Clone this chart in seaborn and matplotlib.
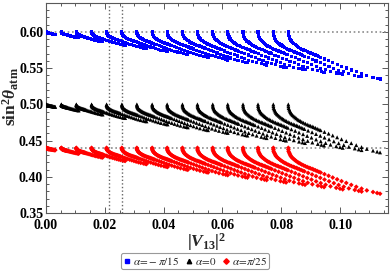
import numpy as np
import pandas as pd
import matplotlib
matplotlib.use("Agg")
import matplotlib.pyplot as plt
import seaborn as sns
from matplotlib.font_manager import FontProperties
from matplotlib.lines import Line2D
from matplotlib.ticker import MultipleLocator

# ---------------- data ----------------
FAMILY_LABELS = [r"$\alpha\!=\!-\pi/15$", r"$\alpha\!=\!0$", r"$\alpha\!=\!\pi/25$"]
FAMILY_Y0 = [0.60, 0.50, 0.44]             # sin^2 theta_atm where each curve starts
FAMILY_DROP_SCALE = [1.00, 1.02, 0.975]     # relative depth of each family's fan
FAMILY_COLORS = ["#0000ff", "#000000", "#ff0000"]
FAMILY_MARKERS = ["s", "^", "D"]
FAMILY_SIZES = [5, 8, 6]

# |V13|^2 at which each curve of the fan starts (on the top line)
CURVE_STARTS = [0.0000, 0.0052, 0.0103, 0.0155, 0.0206, 0.0258, 0.0309, 0.0361,
                0.0412, 0.0464, 0.0515, 0.0567, 0.0618, 0.0670, 0.0721, 0.0773,
                0.0824]
# relative width / depth of each curve compared with the longest one
CURVE_WIDTH = [0.100, 0.190, 0.287, 0.366, 0.435, 0.498, 0.555, 0.609,
               0.660, 0.708, 0.754, 0.799, 0.842, 0.883, 0.923, 0.962, 1.000]
CURVE_DEPTH = [0.050, 0.125, 0.210, 0.285, 0.354, 0.418, 0.479, 0.538,
               0.595, 0.650, 0.703, 0.755, 0.806, 0.856, 0.905, 0.953, 1.000]

# shape of the longest curve (offsets from its start)
TEMPLATE_DX = [0.0000, 0.00003, 0.0001, 0.0003, 0.0005, 0.0007, 0.0009, 0.0012,
               0.0015, 0.0019, 0.0023, 0.0027, 0.0032, 0.0036, 0.0041, 0.0046,
               0.0052, 0.0058, 0.0064, 0.0070, 0.0075, 0.0081, 0.0086, 0.0092,
               0.0098, 0.0104, 0.0110, 0.0123, 0.0137, 0.0151, 0.0166, 0.0181,
               0.0197, 0.0214, 0.0231, 0.0249, 0.0267, 0.0288, 0.0302, 0.0312]
TEMPLATE_DY = [0.0000, 0.0025, 0.0050, 0.0070, 0.0087, 0.0104, 0.0120, 0.0134,
               0.0147, 0.0161, 0.0175, 0.0189, 0.0203, 0.0214, 0.0225, 0.0237,
               0.0249, 0.0261, 0.0272, 0.0282, 0.0290, 0.0299, 0.0308, 0.0318,
               0.0329, 0.0340, 0.0350, 0.0373, 0.0396, 0.0421, 0.0446, 0.0472,
               0.0497, 0.0525, 0.0552, 0.0578, 0.0603, 0.0626, 0.0640, 0.0650]

VLINES = [0.0215, 0.0257]
HLINES = [0.60, 0.44]

XTICKS = [0.00, 0.02, 0.04, 0.06, 0.08, 0.10]
YTICKS = [0.35, 0.40, 0.45, 0.50, 0.55, 0.60]
XLIM = (0.0, 0.1163)
YLIM = (0.35, 0.64)

# ---------------- build table ----------------
rows = []
for lab, y0, ds in zip(FAMILY_LABELS, FAMILY_Y0, FAMILY_DROP_SCALE):
    for x0, w, d in zip(CURVE_STARTS, CURVE_WIDTH, CURVE_DEPTH):
        for dx, dy in zip(TEMPLATE_DX, TEMPLATE_DY):
            rows.append({"family": lab, "V13sq": x0 + dx * w, "s23sq": y0 - dy * d * ds})
df = pd.DataFrame(rows)

# ---------------- style ----------------
sns.set_theme(style="white")
plt.rcParams["font.family"] = ["Liberation Serif", "DejaVu Serif"]
plt.rcParams["mathtext.fontset"] = "custom"
plt.rcParams["mathtext.rm"] = "Liberation Serif:bold"
plt.rcParams["mathtext.bf"] = "Liberation Serif:bold"
plt.rcParams["mathtext.it"] = "Liberation Serif:italic:bold"

fig = plt.figure(figsize=(3.9, 2.71), dpi=100)
ax = fig.add_axes([46 / 390, 1 - 213 / 271, (388 - 46) / 390, (213 - 3) / 271])

frame_col = "0.35"
for xv in VLINES:
    ax.axvline(xv, color="0.4", lw=1.0, ls=(0, (1, 1.6)), zorder=1)
for yv in HLINES:
    ax.axhline(yv, color="0.55", lw=1.2, ls=(0, (1, 1.6)), zorder=1)

for lab, col, mk, sz in zip(FAMILY_LABELS, FAMILY_COLORS, FAMILY_MARKERS, FAMILY_SIZES):
    sub = df[df["family"] == lab]
    sns.scatterplot(data=sub, x="V13sq", y="s23sq", color=col, marker=mk, s=sz,
                    linewidth=0, edgecolor="none", ax=ax, legend=False, zorder=3)

ax.set_xlim(*XLIM)
ax.set_ylim(*YLIM)
ax.set_xticks(XTICKS)
ax.set_xticklabels([f"{v:.2f}" for v in XTICKS])
ax.set_yticks(YTICKS)
ax.set_yticklabels([f"{v:.2f}" for v in YTICKS])
ax.xaxis.set_minor_locator(MultipleLocator(0.005))
ax.yaxis.set_minor_locator(MultipleLocator(0.01))
ax.tick_params(which="both", direction="in", top=True, right=True, bottom=True, left=True,
               color=frame_col, width=0.7)
ax.tick_params(which="major", length=4, labelsize=10)
ax.tick_params(axis="x", which="major", pad=4)
ax.tick_params(axis="y", which="major", pad=2)
ax.tick_params(which="minor", length=2)
for lbl in ax.get_xticklabels() + ax.get_yticklabels():
    lbl.set_fontweight("bold")
    lbl.set_color("black")
for sp in ax.spines.values():
    sp.set_color(frame_col)
    sp.set_linewidth(0.8)

ax.set_xlabel(r"$|V_{13}|^2$", fontsize=12.5)
ax.set_ylabel(r"$\mathrm{sin}^2\theta_{\mathrm{atm}}$", fontsize=12.5)
ax.xaxis.set_label_coords((207 - 46) / 342, -(231 - 213) / 210)
ax.yaxis.set_label_coords(-(46 - 21) / 342, (213 - 97) / 210)
ax.grid(False)

handles = [Line2D([], [], ls="none", marker=mk, color=col, markersize=ms)
           for col, mk, ms in zip(FAMILY_COLORS, FAMILY_MARKERS, [2.5, 3.2, 2.8])]
leg_fp = FontProperties(family="Liberation Serif", size=8, math_fontfamily="stix")
leg = fig.legend(handles, FAMILY_LABELS, loc="center", bbox_to_anchor=(0.5, 1 - 261 / 271),
                 ncol=3, prop=leg_fp, frameon=True, fancybox=True, handlelength=0.7,
                 handletextpad=0.2, columnspacing=0.5, borderpad=0.2, borderaxespad=0)
leg.get_frame().set_edgecolor("0.5")
leg.get_frame().set_linewidth(0.8)

fig.savefig("out.png", dpi=100)
